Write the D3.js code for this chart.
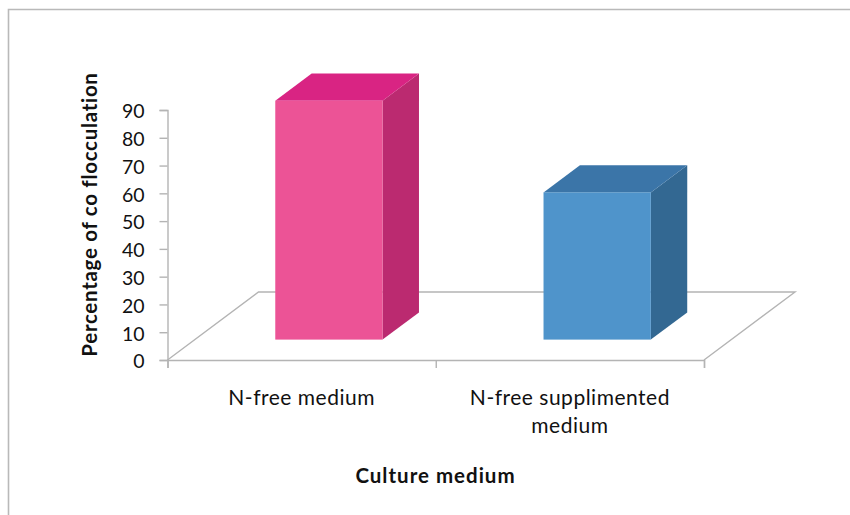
<!DOCTYPE html>
<html>
<head>
<meta charset="utf-8">
<script src="https://cdn.jsdelivr.net/npm/d3@7"></script>
<style>
  html, body { margin: 0; padding: 0; background: #fff; }
  svg { display: block; }
  text { font-family: Lato, "Open Sans", sans-serif; fill: #111; }
</style>
</head>
<body>
<svg id="chart" width="850" height="515"></svg>
<script>
var categories = ["N-free medium", "N-free supplimented medium"];
var values = [86, 53];
var yTicks = [0, 10, 20, 30, 40, 50, 60, 70, 80, 90];
var frontColors = ["#ec5396", "#4f94cb"];
var topColors = ["#d92483", "#3b75a8"];
var sideColors = ["#bb2a70", "#336892"];
var yTitle = "Percentage of co flocculation";
var xTitle = "Culture medium";

var svg = d3.select("#chart");
var axisGrey = "#b4b4b4";

var x0 = 167.5, x1 = 704, y0 = 360, y1 = 110;

// floor depth vector, bars sit in the middle 40% of it
var depthX = 91, depthY = -68;
var barStart = 0.3, barDepth = 0.4;

var x = d3.scaleBand()
  .domain(categories)
  .range([x0, x1])
  .paddingInner(0.6)
  .paddingOuter(0.3);

var y = d3.scaleLinear()
  .domain([0, 90])
  .range([y0, y1]);

// tick marks fall between categories, not on them
var xEdges = d3.scaleLinear()
  .domain([0, categories.length])
  .range([x0, x1]);

// chart frame, only top and left show
svg.append("path")
  .attr("d", "M8.5,515V9.5H850")
  .attr("fill", "none")
  .attr("stroke", "#b9b9b9")
  .attr("stroke-width", 1.6);

// floor
svg.append("path")
  .attr("d", d3.line()([
    [x0, y0],
    [x0 + depthX, y0 + depthY],
    [x1 + depthX, y0 + depthY],
    [x1, y0]
  ]))
  .attr("fill", "none")
  .attr("stroke", axisGrey)
  .attr("stroke-width", 1.4);

// y axis
var yAxis = svg.append("g")
  .attr("transform", "translate(" + x0 + ",0)")
  .call(d3.axisLeft(y).tickValues(yTicks).tickSize(8).tickPadding(15));
yAxis.selectAll("path, line").attr("stroke", axisGrey).attr("stroke-width", 1.4);
yAxis.selectAll("text")
  .attr("font-size", 19.5)
  .attr("dy", "0.4em")
  .style("font-family", "Lato, sans-serif");

// x axis
var xAxis = svg.append("g")
  .attr("transform", "translate(0," + y0 + ")")
  .call(d3.axisBottom(xEdges).tickValues(d3.range(categories.length + 1)).tickSize(8).tickFormat(""));
xAxis.selectAll("path, line").attr("stroke", axisGrey).attr("stroke-width", 1.4);

// bars: side and top faces first, then the front
var bars = svg.selectAll("g.bar")
  .data(categories)
  .enter()
  .append("g")
  .attr("class", "bar");

var dx = depthX * barDepth, dy = depthY * barDepth;
var sx = depthX * barStart, sy = depthY * barStart;

function barLeft(d) { return x(d) + sx; }
function barRight(d) { return x(d) + x.bandwidth() + sx; }
function barBase() { return y(0) + sy; }
function barTop(d, i) { return y(values[i]) + sy; }

bars.append("path")
  .attr("fill", function(d, i){ return sideColors[i]; })
  .attr("d", function(d, i){
    return d3.line()([
      [barRight(d), barTop(d, i)],
      [barRight(d) + dx, barTop(d, i) + dy],
      [barRight(d) + dx, barBase() + dy],
      [barRight(d), barBase()]
    ]) + "Z";
  });

bars.append("path")
  .attr("fill", function(d, i){ return topColors[i]; })
  .attr("d", function(d, i){
    return d3.line()([
      [barLeft(d), barTop(d, i)],
      [barLeft(d) + dx, barTop(d, i) + dy],
      [barRight(d) + dx, barTop(d, i) + dy],
      [barRight(d), barTop(d, i)]
    ]) + "Z";
  });

bars.append("rect")
  .attr("fill", function(d, i){ return frontColors[i]; })
  .attr("x", barLeft)
  .attr("y", barTop)
  .attr("width", x.bandwidth())
  .attr("height", function(d, i){ return barBase() - barTop(d, i); });

// category labels, long ones wrap onto a second line
function wrap(selection, maxWidth) {
  selection.each(function(){
    var label = d3.select(this);
    var words = label.text().split(" ");
    var cx = label.attr("x");
    var line = [];
    var tspan = label.text(null).append("tspan").attr("x", cx);
    words.forEach(function(word){
      line.push(word);
      tspan.text(line.join(" "));
      if (tspan.node().getComputedTextLength() > maxWidth && line.length > 1) {
        line.pop();
        tspan.text(line.join(" "));
        line = [word];
        tspan = label.append("tspan")
          .attr("x", cx)
          .attr("dy", "28")
          .text(word);
      }
    });
  });
}

svg.selectAll("text.category")
  .data(categories)
  .enter()
  .append("text")
  .attr("class", "category")
  .attr("x", function(d){ return x(d) + x.bandwidth() / 2; })
  .attr("y", 405)
  .attr("text-anchor", "middle")
  .attr("font-size", 21)
  .attr("letter-spacing", 0.5)
  .text(function(d){ return d; })
  .call(wrap, 240);

// axis titles
svg.append("text")
  .attr("x", 435.5)
  .attr("y", 482.5)
  .attr("text-anchor", "middle")
  .attr("font-size", 20.5)
  .attr("font-weight", "bold")
  .attr("letter-spacing", 1)
  .text(xTitle);

svg.append("text")
  .attr("transform", "translate(97,214.5) rotate(-90)")
  .attr("text-anchor", "middle")
  .attr("font-size", 20.5)
  .attr("font-weight", "bold")
  .attr("letter-spacing", 0.7)
  .text(yTitle);
</script>
</body>
</html>
